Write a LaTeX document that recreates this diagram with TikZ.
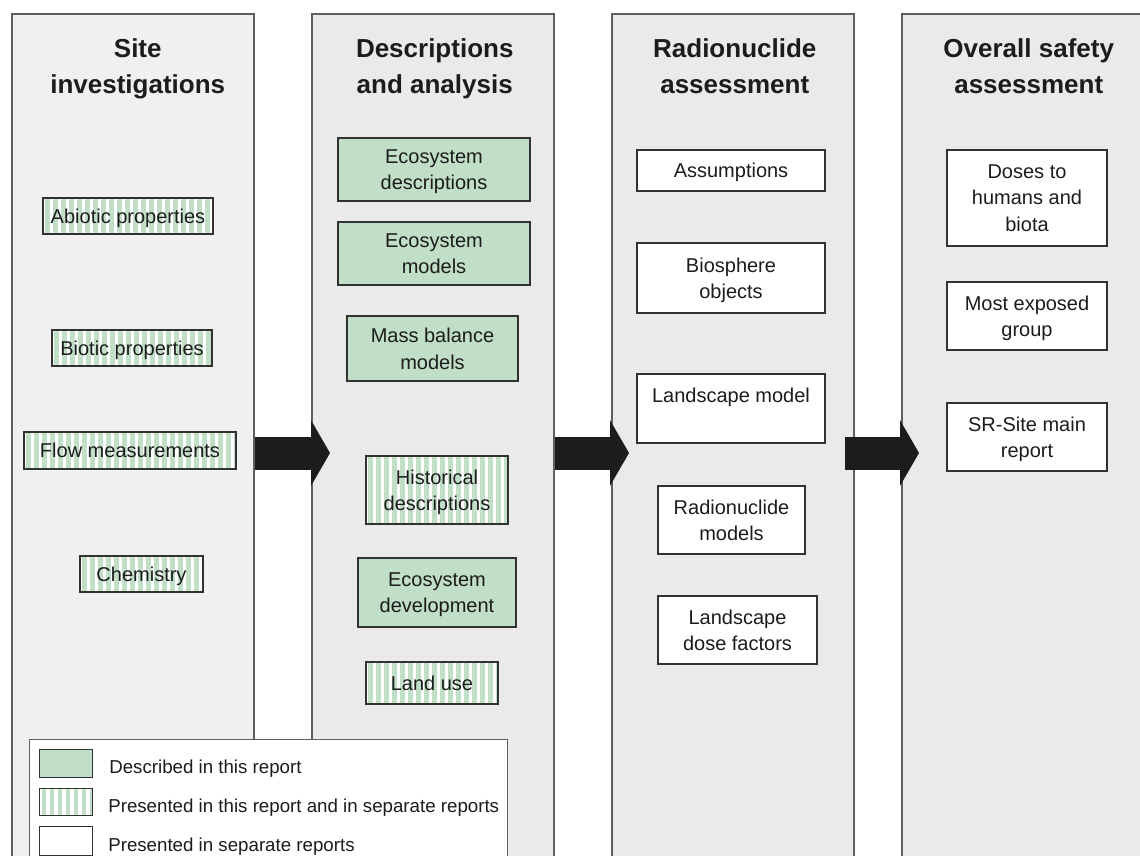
\documentclass[tikz,border=0pt]{standalone}
\usepackage{fontspec}
\setmainfont{Liberation Sans}
\usetikzlibrary{arrows.meta,positioning,calc}

\definecolor{colgray}{RGB}{234,234,234}
\definecolor{colgraylight}{RGB}{240,240,240}
\definecolor{colline}{RGB}{95,95,95}
\definecolor{boxline}{RGB}{50,50,50}
\definecolor{boxgreen}{RGB}{193,222,199}
\definecolor{darkink}{RGB}{28,28,28}

\begin{document}
\begin{tikzpicture}[x=1pt,y=-1pt,
  every node/.style={shape=rectangle,inner sep=0pt,text=darkink},
  column/.style={draw=colline,line width=1.5pt,fill=colgray,minimum width=242pt,minimum height=860pt,anchor=north west},
  header/.style={font=\fontsize{26}{36}\selectfont\bfseries,align=center,anchor=north},
  item/.style={draw=boxline,line width=1.1pt,fill=white,align=center,text depth=-2pt,font=\fontsize{20}{26.5}\selectfont},
  greenitem/.style={item,fill=boxgreen},
  stripeitem/.style={item,path picture={
      \foreach \k in {0,...,35}
        \fill[boxgreen] ($(path picture bounding box.south west)+(\k*8+2,0)$) rectangle ++(4.5,-130);
    }},
  legendtext/.style={anchor=west,font=\fontsize{18.7}{23}\selectfont},
  blockarrow/.style={draw=darkink,line width=33pt,-{Triangle[length=19pt,width=65pt]}},
]
  \clip (0,0) rectangle (1140,855);

  % the four columns
  \node (site)[column,fill=colgraylight] at (11,13) {};
  \node (descr)[column] at (311,13) {};
  \node (radio)[column] at (611,13) {};
  \node (overall)[column] at (901,13) {};

  \node (hsite)[header] at ($(site.north)+(5,25)$) {Site\\investigations};
  \node (hdescr)[header] at ($(descr.north)+(2,25)$) {Descriptions\\and analysis};
  \node (hradio)[header] at ($(radio.north)+(2,25)$) {Radionuclide\\assessment};
  \node (hoverall)[header] at ($(overall.north)+(6,25)$) {Overall safety\\assessment};

  % arrows between the columns
  \coordinate (arrowrow) at (0,453);
  \draw[blockarrow] (site.east |- arrowrow) -- ($(descr.west |- arrowrow)+(19,0)$);
  \draw[blockarrow] (descr.east |- arrowrow) -- ($(radio.west |- arrowrow)+(18,0)$);
  \draw[blockarrow] ($(radio.east |- arrowrow)+(-10,0)$) -- ($(overall.west |- arrowrow)+(18,0)$);

  % site investigations
  \node (abiotic)[stripeitem,minimum width=170pt,minimum height=36pt] at (128,216) {Abiotic properties};
  \node (biotic)[stripeitem,minimum width=160pt,minimum height=36pt] at (132,348) {Biotic properties};
  \node (flow)[stripeitem,minimum width=212pt,minimum height=37pt] at (130,450.5) {Flow measurements};
  \node (chem)[stripeitem,minimum width=123pt,minimum height=36pt] at (141.5,574) {Chemistry};

  % descriptions and analysis
  \node (ecodesc)[greenitem,minimum width=192pt,minimum height=63pt] at (434,169.5) {Ecosystem\\descriptions};
  \node (ecomod)[greenitem,minimum width=192pt,minimum height=63pt] at (434,253.5) {Ecosystem\\models};
  \node (massbal)[greenitem,minimum width=171pt,minimum height=65pt] at (432.5,348.5) {Mass balance\\models};
  \node (hist)[stripeitem,minimum width=142pt,minimum height=68pt] at (437,490) {Historical\\descriptions};
  \node (ecodev)[greenitem,minimum width=158pt,minimum height=69pt] at (437,592.5) {Ecosystem\\development};
  \node (landuse)[stripeitem,minimum width=132pt,minimum height=42pt] at (432,683) {Land use};

  % radionuclide assessment
  \node (assump)[item,minimum width=188pt,minimum height=41pt] at (731,170.5) {Assumptions};
  \node (bioobj)[item,minimum width=188pt,minimum height=70pt] at (731,278) {Biosphere\\objects};
  \node (landmod)[item,minimum width=188pt,minimum height=69pt] at (731,408.5) {Landscape model\\\mbox{}};
  \node (radmod)[item,minimum width=147pt,minimum height=68pt] at (731.5,520) {Radionuclide\\models};
  \node (dosefac)[item,minimum width=159pt,minimum height=68pt] at (737.5,630) {Landscape\\dose factors};

  % overall safety assessment
  \node (doses)[item,minimum width=160pt,minimum height=96pt] at (1027,198) {Doses to\\humans and\\biota};
  \node (exposed)[item,minimum width=160pt,minimum height=68pt] at (1027,316) {Most exposed\\group};
  \node (srsite)[item,minimum width=160pt,minimum height=68pt] at (1027,437) {SR-Site main\\report};

  % legend
  \node (legend)[draw=colline,line width=1.2pt,fill=white,minimum width=478pt,minimum height=140pt,anchor=north west] at (29,739) {};
  \node (swgreen)[greenitem,minimum width=53pt,minimum height=28pt,anchor=north west] at ($(legend.north west)+(10,10)$) {};
  \node (swstripe)[stripeitem,minimum width=53pt,minimum height=27pt,below=10pt of swgreen] {};
  \node (swwhite)[item,minimum width=53pt,minimum height=29pt,below=10pt of swstripe] {};
  \node (txgreen)[legendtext,right=16pt of swgreen,yshift=-5pt] {Described in this report};
  \node (txstripe)[legendtext,right=15pt of swstripe,yshift=-5pt] {Presented in this report and in separate reports};
  \node (txwhite)[legendtext,right=15pt of swwhite,yshift=-5pt] {Presented in separate reports};
\end{tikzpicture}
\end{document}
